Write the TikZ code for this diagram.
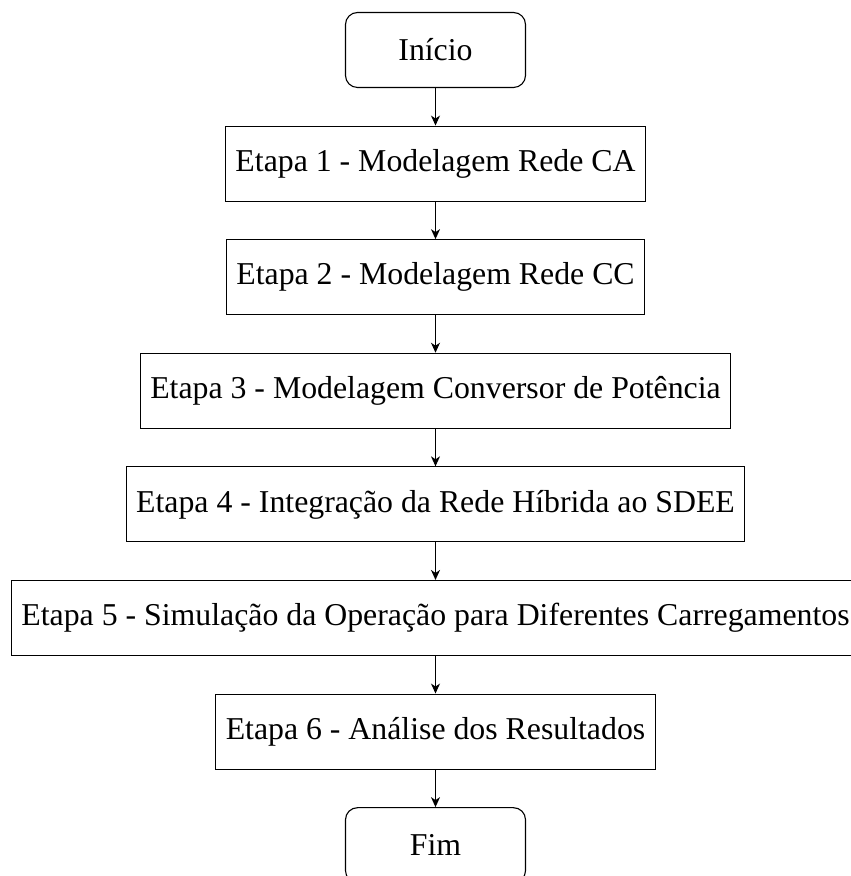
\documentclass[tikz,border=0pt]{standalone}
\usepackage{fontspec}
\setmainfont{Liberation Serif}
\usetikzlibrary{positioning,arrows.meta}

\begin{document}
\begin{tikzpicture}[x=1pt,y=1pt,node distance=37.5pt,
        etapa/.style={draw,line width=1.1pt,minimum height=75pt,inner xsep=10pt,font=\fontsize{31.8}{38}\selectfont},
        terminal/.style={etapa,rounded corners=12pt,minimum width=180pt},
        seta/.style={-{Stealth[length=10pt,width=9pt,inset=3pt]},line width=1.1pt}]
        \useasboundingbox (0,0) rectangle (851,876);
        % fluxo das etapas
        \node[terminal] (inicio) at (435.5,826) {Início};
        \node[etapa,below=of inicio] (e1) {Etapa 1 - Modelagem Rede CA};
        \node[etapa,below=of e1] (e2) {Etapa 2 - Modelagem Rede CC};
        \node[etapa,below=of e2] (e3) {Etapa 3 - Modelagem Conversor de Potência};
        \node[etapa,below=of e3] (e4) {Etapa 4 - Integração da Rede Híbrida ao SDEE};
        \node[etapa,below=of e4] (e5) {Etapa 5 - Simulação da Operação para Diferentes Carregamentos};
        \node[etapa,below=of e5] (e6) {Etapa 6 - Análise dos Resultados};
        \node[terminal,below=of e6] (fim) {Fim};
        % setas entre os blocos
        \foreach \a/\b in {inicio/e1,e1/e2,e2/e3,e3/e4,e4/e5,e5/e6,e6/fim}
            \draw[seta] (\a) -- (\b);
\end{tikzpicture}
\end{document}
